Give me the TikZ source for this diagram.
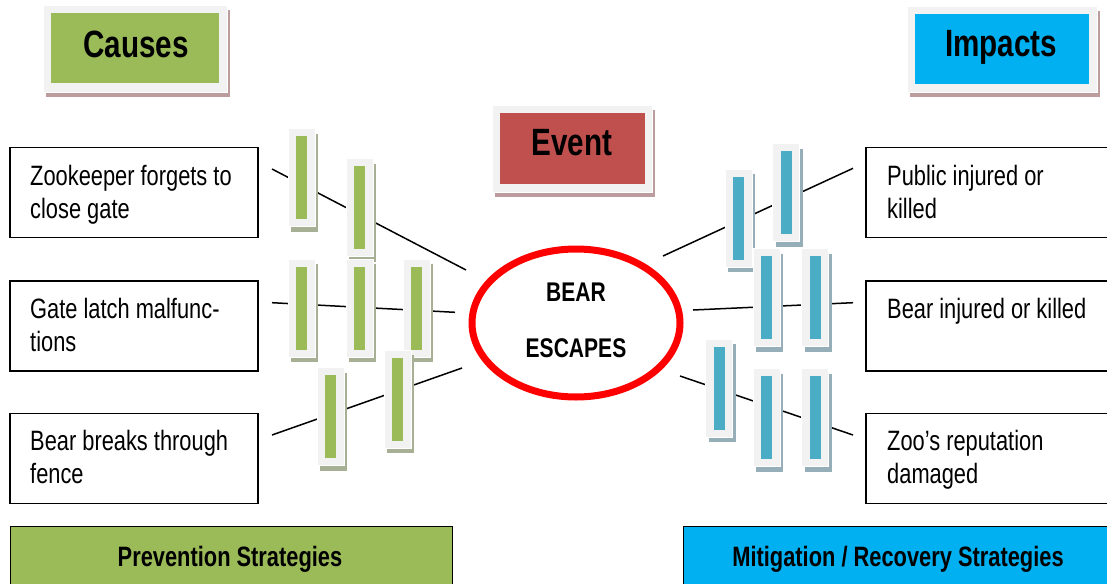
\documentclass[tikz,border=0pt]{standalone}
\usepackage{fontspec}
\setmainfont{Liberation Sans}[FakeStretch=0.78]
\usetikzlibrary{shapes.geometric}
\definecolor{cgreen}{HTML}{9BBB59}
\definecolor{cblue}{HTML}{4BACC6}
\definecolor{ccyan}{HTML}{00B0F0}
\definecolor{cred}{HTML}{C0504D}
\definecolor{frame}{HTML}{F2F2F2}
\definecolor{boxshadow}{HTML}{BC9C9C}
\definecolor{gshadow}{HTML}{A7AF95}
\definecolor{bshadow}{HTML}{95AEB7}
\tikzset{
  barframe/.style={rectangle, fill=frame, draw=white, line width=0.8pt, inner sep=0pt, minimum width=27pt, minimum height=98pt},
  barshadow/.style={rectangle, inner sep=0pt, minimum width=27pt, minimum height=98pt},
  barinner/.style={rectangle, inner sep=0pt, minimum width=11pt, minimum height=83pt},
  textbox/.style={rectangle, draw=black, line width=1.3pt, inner sep=0pt},
  boxtext/.style={anchor=base west, align=left, inner sep=0pt, font=\fontsize{28}{33}\selectfont},
  headtext/.style={anchor=base, inner sep=0pt, font=\fontsize{38}{42}\selectfont\bfseries},
  conn/.style={draw=black, line width=1.5pt},
  stratbox/.style={rectangle, draw=black, line width=1.2pt, inner sep=0pt},
  strattext/.style={anchor=base, inner sep=0pt, font=\fontsize{28}{32}\selectfont\bfseries},
  evtext/.style={anchor=base, inner sep=0pt, font=\fontsize{27}{30}\selectfont\bfseries},
}
\newcommand\mybar[5]{%
  \node[barshadow, fill=#5] (#1s) at (#2+3,#3+5) {};
  \node[barframe] (#1) at (#2,#3) {};
  \node[barinner, fill=#4] (#1i) at (#2,#3) {};
}
\newcommand\headbox[8]{% name, cx, cy, w, h, iw, ih, color
  \node[rectangle, inner sep=0pt, fill=boxshadow, minimum width=#4pt, minimum height=#5pt] (#1s) at (#2+3,#3+5) {};
  \node[rectangle, inner sep=0pt, fill=frame, draw=white, line width=0.8pt, minimum width=#4pt, minimum height=#5pt] (#1f) at (#2,#3) {};
  \node[rectangle, inner sep=0pt, fill=#8, minimum width=#6pt, minimum height=#7pt] (#1) at (#2,#3) {};
}
\begin{document}
\begin{tikzpicture}[x=1pt,y=-1pt]
\useasboundingbox (0,0) rectangle (1107,583);
\clip (0,0) rectangle (1107,583);
\fill[white] (0,0) rectangle (1107,583);

% header boxes
\headbox{causes}{135}{48.5}{184}{87}{168}{70}{cgreen}
\node[headtext] (causest) at (136,58) {Causes};
\headbox{event}{572}{148.5}{160}{87}{145}{71}{cred}
\node[headtext] (eventt) at (572,155) {Event};
\headbox{impacts}{1002}{49}{190}{86}{174}{70}{ccyan}
\node[headtext] (impactst) at (1001,57) {Impacts};

% text boxes
\node[textbox, minimum width=248pt, minimum height=90pt] (c1) at (134,192.5) {};
\node[textbox, minimum width=248pt, minimum height=90pt] (c2) at (134,326) {};
\node[textbox, minimum width=248pt, minimum height=90pt] (c3) at (134,458.5) {};
\node[boxtext] (c1t) at (30,218) {Zookeeper forgets to\\close gate};
\node[boxtext] (c2t) at (30,351) {Gate latch malfunc-\\tions};
\node[boxtext] (c3t) at (30,483) {Bear breaks through\\fence};

\node[textbox, minimum width=260pt, minimum height=90pt] (i1) at (996,192.5) {};
\node[textbox, minimum width=260pt, minimum height=90pt] (i2) at (996,326) {};
\node[textbox, minimum width=260pt, minimum height=90pt] (i3) at (996,458.5) {};
\node[boxtext] (i1t) at (887,218) {Public injured or\\killed};
\node[boxtext] (i2t) at (887,318) {Bear injured or killed};
\node[boxtext] (i3t) at (887,483) {Zoo’s reputation\\damaged};

% event ellipse
\node[ellipse, draw=red, line width=7pt, minimum width=208pt, minimum height=148pt, inner sep=0pt] (ev) at (576,323) {};
\node[evtext] (bear) at (576,301) {BEAR};
\node[evtext] (escapes) at (576,357) {ESCAPES};

% connectors
\coordinate (l1a) at (272,169); \coordinate (l1b) at (466,270);
\coordinate (l2a) at (272,302.7); \coordinate (l2b) at (455,312.3);
\coordinate (l3a) at (272,435); \coordinate (l3b) at (462,368);
\coordinate (r1a) at (663,256); \coordinate (r1b) at (853,168.3);
\coordinate (r2a) at (693,310); \coordinate (r2b) at (853,302.7);
\coordinate (r3a) at (680,376); \coordinate (r3b) at (853,435);
\draw[conn] (l1a) -- (l1b);
\draw[conn] (l2a) -- (l2b);
\draw[conn] (l3a) -- (l3b);
\draw[conn] (r1a) -- (r1b);
\draw[conn] (r2a) -- (r2b);
\draw[conn] (r3a) -- (r3b);

% barriers left
\mybar{ba}{301.5}{177.5}{cgreen}{gshadow}
\mybar{bb}{359.5}{207.5}{cgreen}{gshadow}
\mybar{bc}{301.5}{308}{cgreen}{gshadow}
\mybar{bd}{359.5}{308}{cgreen}{gshadow}
\mybar{be}{416.5}{308}{cgreen}{gshadow}
\mybar{bf}{330.5}{416.5}{cgreen}{gshadow}
\mybar{bg}{397.5}{399}{cgreen}{gshadow}
% barriers right
\mybar{ra}{738.5}{218}{cblue}{bshadow}
\mybar{rb}{786}{192.5}{cblue}{bshadow}
\mybar{rc}{766.5}{297.5}{cblue}{bshadow}
\mybar{rd}{815}{297.5}{cblue}{bshadow}
\mybar{re}{719}{388}{cblue}{bshadow}
\mybar{rf}{766.5}{417.5}{cblue}{bshadow}
\mybar{rg}{815}{417.5}{cblue}{bshadow}

% strategy boxes
\node[stratbox, fill=cgreen, minimum width=442pt, minimum height=80pt, anchor=north west] (prev) at (10,526) {};
\node[strattext] (prevt) at (230,566) {Prevention Strategies};
\node[stratbox, fill=ccyan, minimum width=440pt, minimum height=80pt, anchor=north west] (mit) at (683,526) {};
\node[strattext] (mitt) at (898,566) {Mitigation / Recovery Strategies};
\end{tikzpicture}
\end{document}
